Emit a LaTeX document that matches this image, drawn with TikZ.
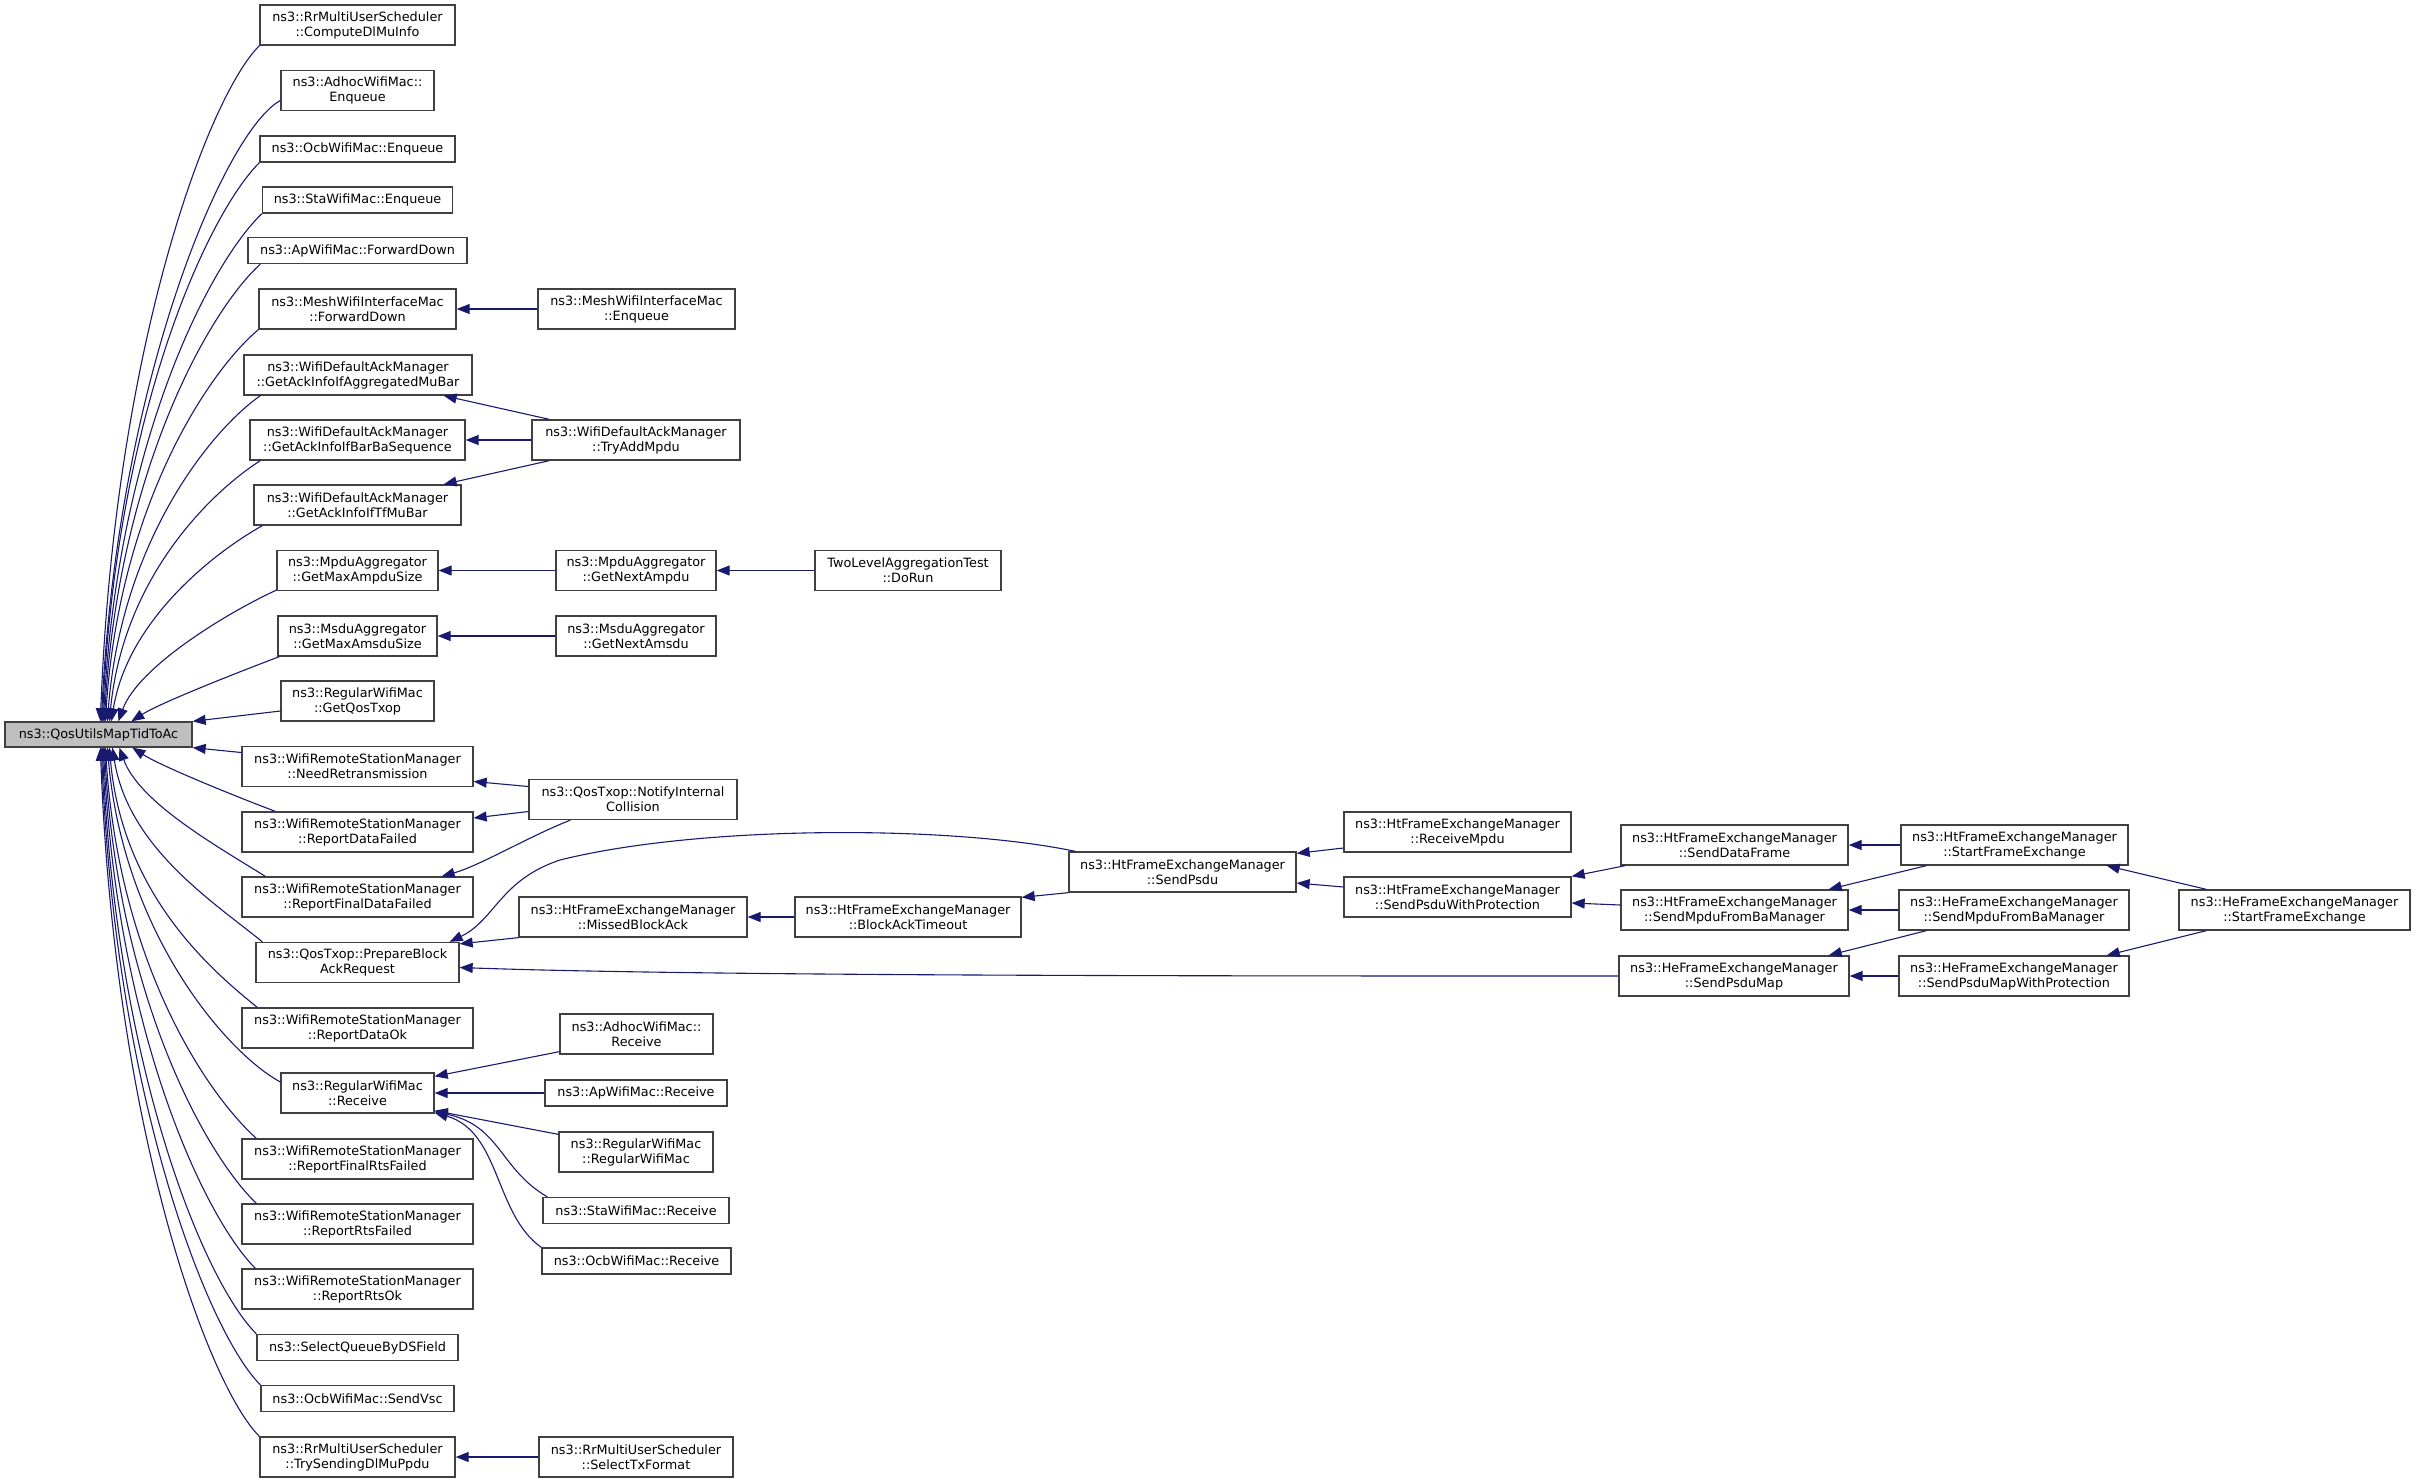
\documentclass[tikz,border=0pt]{standalone}
\usepackage{fontspec}
\setmainfont{DejaVu Sans}
\usetikzlibrary{arrows.meta,calc}
\definecolor{edgeblue}{HTML}{191970}
\definecolor{boxline}{HTML}{404040}
\definecolor{mainfill}{HTML}{BFBFBF}
\begin{document}
\begin{tikzpicture}[x=1pt,y=-1pt,
  box/.style={draw=boxline, line width=1.3pt, fill=white, rectangle, align=center, inner sep=0pt,
    font={\fontsize{12.8}{15}\selectfont}, minimum height=40pt},
  one/.style={minimum height=26pt},
  edge/.style={draw=edgeblue, line width=1.1pt, -{Triangle[length=13pt,width=10pt]}},
]
\useasboundingbox (0,0) rectangle (2416,1483);

% main node
\node[box, fill=mainfill, minimum width=187pt, minimum height=25pt] (main) at (98.5,734.5) {ns3::QosUtilsMapTidToAc};

% column 1
\node[box, minimum width=195pt] (cdl) at (357.5,25) {ns3::RrMultiUserScheduler\\::ComputeDlMuInfo};
\node[box, minimum width=153pt] (adE) at (357.5,90.5) {ns3::AdhocWifiMac::\\Enqueue};
\node[box, one, minimum width=195pt] (ocE) at (357.5,149) {ns3::OcbWifiMac::Enqueue};
\node[box, one, minimum width=190pt] (stE) at (357.5,200) {ns3::StaWifiMac::Enqueue};
\node[box, one, minimum width=219pt] (apF) at (357.5,250.5) {ns3::ApWifiMac::ForwardDown};
\node[box, minimum width=197pt] (meF) at (357.5,309) {ns3::MeshWifiInterfaceMac\\::ForwardDown};
\node[box, minimum width=228pt] (agg) at (358,375) {ns3::WifiDefaultAckManager\\::GetAckInfoIfAggregatedMuBar};
\node[box, minimum width=215pt] (bar) at (357.5,440) {ns3::WifiDefaultAckManager\\::GetAckInfoIfBarBaSequence};
\node[box, minimum width=207pt] (tfm) at (357.5,505) {ns3::WifiDefaultAckManager\\::GetAckInfoIfTfMuBar};
\node[box, minimum width=161pt] (gma) at (357.5,570.5) {ns3::MpduAggregator\\::GetMaxAmpduSize};
\node[box, minimum width=159pt] (gms) at (357.5,636) {ns3::MsduAggregator\\::GetMaxAmsduSize};
\node[box, minimum width=153pt] (gqt) at (357.5,701) {ns3::RegularWifiMac\\::GetQosTxop};
\node[box, minimum width=231pt] (nrt) at (357.5,766.5) {ns3::WifiRemoteStationManager\\::NeedRetransmission};
\node[box, minimum width=231pt] (rdf) at (357.5,832) {ns3::WifiRemoteStationManager\\::ReportDataFailed};
\node[box, minimum width=231pt] (rfd) at (357.5,897) {ns3::WifiRemoteStationManager\\::ReportFinalDataFailed};
\node[box, minimum width=203pt] (pba) at (357.5,962.5) {ns3::QosTxop::PrepareBlock\\AckRequest};
\node[box, minimum width=231pt] (rdo) at (357.5,1028) {ns3::WifiRemoteStationManager\\::ReportDataOk};
\node[box, minimum width=153pt] (rrc) at (357.5,1093) {ns3::RegularWifiMac\\::Receive};
\node[box, minimum width=231pt] (rfr) at (357.5,1159) {ns3::WifiRemoteStationManager\\::ReportFinalRtsFailed};
\node[box, minimum width=231pt] (rrf) at (357.5,1224) {ns3::WifiRemoteStationManager\\::ReportRtsFailed};
\node[box, minimum width=231pt] (rro) at (357.5,1289) {ns3::WifiRemoteStationManager\\::ReportRtsOk};
\node[box, one, minimum width=201pt] (sqd) at (357.5,1347.5) {ns3::SelectQueueByDSField};
\node[box, one, minimum width=193pt] (svs) at (357.5,1398.5) {ns3::OcbWifiMac::SendVsc};
\node[box, minimum width=195pt] (tsd) at (357.5,1457) {ns3::RrMultiUserScheduler\\::TrySendingDlMuPpdu};

% column 2
\node[box, minimum width=197pt] (meE) at (636.5,309) {ns3::MeshWifiInterfaceMac\\::Enqueue};
\node[box, minimum width=208pt] (tam) at (636,440) {ns3::WifiDefaultAckManager\\::TryAddMpdu};
\node[box, minimum width=160pt] (gna) at (636,570.5) {ns3::MpduAggregator\\::GetNextAmpdu};
\node[box, minimum width=160pt] (gns) at (636,636) {ns3::MsduAggregator\\::GetNextAmsdu};
\node[box, minimum width=208pt] (nic) at (633,799.5) {ns3::QosTxop::NotifyInternal\\Collision};
\node[box, minimum width=228pt] (mba) at (633,917) {ns3::HtFrameExchangeManager\\::MissedBlockAck};
\node[box, minimum width=153pt] (adR) at (636.5,1034) {ns3::AdhocWifiMac::\\Receive};
\node[box, one, minimum width=182pt] (apR) at (636,1093) {ns3::ApWifiMac::Receive};
\node[box, minimum width=154pt] (rwm) at (636,1152) {ns3::RegularWifiMac\\::RegularWifiMac};
\node[box, one, minimum width=186pt] (stR) at (636,1210.5) {ns3::StaWifiMac::Receive};
\node[box, one, minimum width=189pt] (ocR) at (636.5,1261) {ns3::OcbWifiMac::Receive};
\node[box, minimum width=194pt] (stf) at (636,1457) {ns3::RrMultiUserScheduler\\::SelectTxFormat};

% column 3
\node[box, minimum width=186pt] (dor) at (908,570.5) {TwoLevelAggregationTest\\::DoRun};
\node[box, minimum width=226pt] (bat) at (908,917) {ns3::HtFrameExchangeManager\\::BlockAckTimeout};

% column 4
\node[box, minimum width=227pt] (spd) at (1182.5,872) {ns3::HtFrameExchangeManager\\::SendPsdu};

% column 5
\node[box, minimum width=227pt] (rmp) at (1457.5,832) {ns3::HtFrameExchangeManager\\::ReceiveMpdu};
\node[box, minimum width=227pt] (swp) at (1457.5,897) {ns3::HtFrameExchangeManager\\::SendPsduWithProtection};

% column 6
\node[box, minimum width=227pt] (sdf) at (1734.5,845) {ns3::HtFrameExchangeManager\\::SendDataFrame};
\node[box, minimum width=227pt] (hsm) at (1734.5,910) {ns3::HtFrameExchangeManager\\::SendMpduFromBaManager};
\node[box, minimum width=230pt] (spm) at (1734,976) {ns3::HeFrameExchangeManager\\::SendPsduMap};

% column 7
\node[box, minimum width=227pt] (hsf) at (2014.5,845) {ns3::HtFrameExchangeManager\\::StartFrameExchange};
\node[box, minimum width=230pt] (esm) at (2014,910) {ns3::HeFrameExchangeManager\\::SendMpduFromBaManager};
\node[box, minimum width=230pt] (smp) at (2014,976) {ns3::HeFrameExchangeManager\\::SendPsduMapWithProtection};

% column 8
\node[box, minimum width=231pt] (esf) at (2294.5,910) {ns3::HeFrameExchangeManager\\::StartFrameExchange};

% edges into main (upper)
\draw[edge] (cdl.south west) .. controls +(-52,52) and +(14,-372) .. ($(main.north west)+(96,0)$);
\draw[edge] ($(adE.west)+(0,10)$) .. controls +(-55,30) and +(16,-342) .. ($(main.north west)+(97,0)$);
\draw[edge] (ocE.south west) .. controls +(-52,52) and +(14,-308) .. ($(main.north west)+(98,0)$);
\draw[edge] (stE.south west) .. controls +(-52,50) and +(14,-280) .. ($(main.north west)+(99,0)$);
\draw[edge] ($(apF.south west)+(13,0)$) .. controls +(-50,45) and +(14,-252) .. ($(main.north west)+(100,0)$);
\draw[edge] (meF.south west) .. controls +(-50,42) and +(14,-216) .. ($(main.north west)+(101,0)$);
\draw[edge] ($(agg.south west)+(17,0)$) .. controls +(-50,35) and +(14,-180) .. ($(main.north west)+(103,0)$);
\draw[edge] ($(bar.south west)+(11,0)$) .. controls +(-50,32) and +(14,-144) .. ($(main.north west)+(105,0)$);
\draw[edge] ($(tfm.south west)+(9,0)$) .. controls +(-50,28) and +(16,-100) .. ($(main.north west)+(107,0)$);
\draw[edge] ($(gma.south west)+(0,-1)$) .. controls +(-48,22) and +(20,-55) .. ($(main.north west)+(114,0)$);
\draw[edge] ($(gms.south west)+(2,0)$) .. controls +(-45,17) and +(28,-18) .. ($(main.north west)+(127,0)$);
\draw[edge] ($(gqt.west)+(0,10)$) -- (main.north east);
\draw[edge] ($(nrt.west)+(0,-14)$) -- (main.south east);

% edges into main (lower)
\draw[edge] ($(rdf.north west)+(34,0)$) .. controls +(-45,-17) and +(28,18) .. ($(main.south west)+(128,0)$);
\draw[edge] ($(rfd.north west)+(24,0)$) .. controls +(-48,-30) and +(20,55) .. ($(main.south west)+(115,0)$);
\draw[edge] ($(pba.north west)+(7,0)$) .. controls +(-49,-40) and +(16,100) .. ($(main.south west)+(108,0)$);
\draw[edge] ($(rdo.north west)+(16,0)$) .. controls +(-50,-40) and +(13,144) .. ($(main.south west)+(105,0)$);
\draw[edge] ($(rrc.west)+(0,-11)$) .. controls +(-55,-30) and +(16,184) .. ($(main.south west)+(103,0)$);
\draw[edge] ($(rfr.north west)+(15,0)$) .. controls +(-50,-45) and +(14,216) .. ($(main.south west)+(101,0)$);
\draw[edge] ($(rrf.north west)+(15,0)$) .. controls +(-50,-48) and +(14,251) .. ($(main.south west)+(100,0)$);
\draw[edge] ($(rro.north west)+(14,0)$) .. controls +(-50,-50) and +(14,287) .. ($(main.south west)+(99,0)$);
\draw[edge] (sqd.north west) .. controls +(-52,-52) and +(14,323) .. ($(main.south west)+(98,0)$);
\draw[edge] (svs.north west) .. controls +(-52,-52) and +(14,351) .. ($(main.south west)+(97,0)$);
\draw[edge] (tsd.north west) .. controls +(-52,-52) and +(14,380) .. ($(main.south west)+(96,0)$);

% other edges
\draw[edge] (meE.west) -- (meF.east);
\draw[edge] ($(tam.north west)+(18,0)$) -- ($(agg.south east)+(-29,0)$);
\draw[edge] (tam.west) -- (bar.east);
\draw[edge] ($(tam.south west)+(18,0)$) -- ($(tfm.north east)+(-18,0)$);
\draw[edge] (gna.west) -- (gma.east);
\draw[edge] (dor.west) -- (gna.east);
\draw[edge] (gns.west) -- (gms.east);
\draw[edge] ($(nic.west)+(0,-13)$) -- ($(nrt.east)+(0,15)$);
\draw[edge] ($(nic.west)+(0,12)$) -- ($(rdf.east)+(0,-14)$);
\draw[edge] ($(nic.south west)+(42,0)$) .. controls +(-41,16) and +(39,-11) .. ($(rfd.north east)+(-32,0)$);
\draw[edge] ($(spd.north west)+(7,0)$) .. controls (950,825) and (700,825) .. (560,860) .. controls (500,880) and (495,920) .. ($(pba.north east)+(-10,0)$);
\draw[edge] (mba.south west) -- ($(pba.north east)+(0,2)$);
\draw[edge] (bat.west) -- (mba.east);
\draw[edge] (spd.south west) -- ($(bat.north east)+(0,1)$);
\draw[edge] (spm.west) .. controls (1200,976) and (700,976) .. ($(pba.east)+(0,5)$);
\draw[edge] ($(rmp.west)+(0,16)$) -- ($(spd.north east)+(0,2)$);
\draw[edge] ($(swp.west)+(0,-10)$) -- ($(spd.east)+(0,11)$);
\draw[edge] ($(sdf.south west)+(5,0)$) -- (swp.north east);
\draw[edge] ($(hsm.west)+(0,-5)$) -- ($(swp.east)+(0,6)$);
\draw[edge] (hsf.west) -- (sdf.east);
\draw[edge] ($(hsf.south west)+(26,0)$) -- ($(hsm.north east)+(-20,0)$);
\draw[edge] (esm.west) -- (hsm.east);
\draw[edge] ($(esm.south west)+(28,0)$) -- ($(spm.north east)+(-21,0)$);
\draw[edge] (smp.west) -- (spm.east);
\draw[edge] ($(esf.north west)+(28,0)$) -- ($(hsf.south east)+(-22,0)$);
\draw[edge] ($(esf.south west)+(28,0)$) -- ($(smp.north east)+(-23,0)$);
\draw[edge] ($(adR.south west)+(0,-3)$) -- ($(rrc.north east)+(0,4)$);
\draw[edge] (apR.west) -- (rrc.east);
\draw[edge] ($(rwm.north west)+(0,3)$) -- ($(rrc.south east)+(0,-3)$);
\draw[edge] ($(stR.north west)+(5,0)$) .. controls +(-48,-28) and +(66,14) .. ($(rrc.south east)+(0,-2)$);
\draw[edge] (ocR.north west) .. controls +(-47,-33) and +(66,19) .. ($(rrc.south east)+(0,-1)$);
\draw[edge] (stf.west) -- (tsd.east);
\end{tikzpicture}
\end{document}
